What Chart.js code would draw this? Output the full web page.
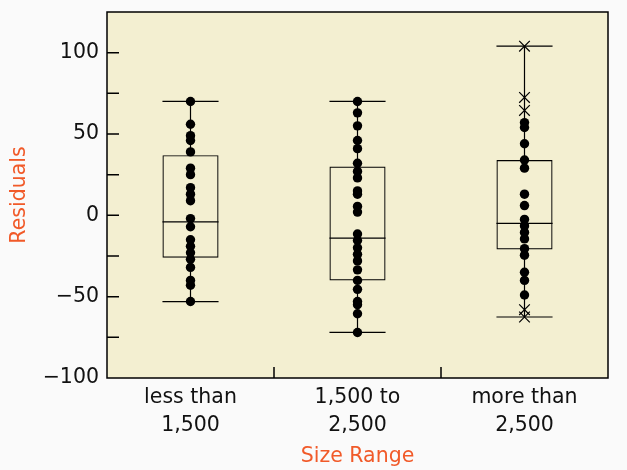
<!DOCTYPE html>
<html>
<head>
<meta charset="utf-8">
<script src="https://cdn.jsdelivr.net/npm/chart.js@4.4.1/dist/chart.umd.min.js"></script>
<style>
html,body{margin:0;padding:0;background:#fafafa;}
canvas{display:block;}
</style>
</head>
<body>
<canvas id="c" width="627" height="470"></canvas>
<script>
// ---- data ----
const categories = [["less than", "1,500"], ["1,500 to", "2,500"], ["more than", "2,500"]];
const boxQ1 = [-26, -40, -21];
const boxMedian = [-4, -14, -5];
const boxQ3 = [37, 30, 34];
const whiskerMin = [-53, -72, -62.5];
const whiskerMax = [70, 70, 104];
const residualsSmall = [70, 56, 49, 46, 39, 29, 25, 17, 13, 9, -2, -7, -15, -19, -23, -27, -32, -40, -43, -53];
const residualsMid = [70, 63, 55, 46, 41, 32, 27, 23, 15, 13, 5.5, 2, -11.5, -15.5, -20, -24, -28, -33.5, -40, -45.5, -53, -55, -60.5, -72];
const residualsLarge = [57, 54, 44, 34, 29, 13, 6, -2.5, -6.5, -10.5, -14.5, -20.5, -24.5, -35, -40, -49];
const outliersLarge = [104, 72.5, 64.5, -58, -62.5];
const yLabelTicks = [-100, -50, 0, 50, 100];
const yTickMarks = [-75, -50, -25, 0, 25, 50, 75, 100];

// ---- styling ----
const ORANGE = '#F15A29';
const PLOT_BG = '#F3EFD1';
const BOX_FRAC = 0.336;
const FONT = "'DejaVu Sans', sans-serif";
Chart.defaults.font.family = FONT;

const toPts = (arr, idx) => arr.map(v => ({x: idx, y: v}));
const fmt = v => (v < 0 ? '\u2212' + Math.abs(v) : String(v));

const boxPlugin = {
  id: 'boxplot',
  beforeDraw(chart) {
    const {ctx, chartArea: a} = chart;
    ctx.save();
    ctx.fillStyle = PLOT_BG;
    ctx.fillRect(a.left, a.top, a.right - a.left, a.bottom - a.top);
    ctx.restore();
  },
  beforeDatasetsDraw(chart) {
    const {ctx, scales: {x, y}} = chart;
    const half = (x.getPixelForValue(1) - x.getPixelForValue(0)) * BOX_FRAC / 2;
    ctx.save();
    ctx.strokeStyle = '#000';
    ctx.lineWidth = 1.2;
    for (let i = 0; i < categories.length; i++) {
      const cx = x.getPixelForValue(i);
      const yMax = y.getPixelForValue(whiskerMax[i]);
      const yMin = y.getPixelForValue(whiskerMin[i]);
      const yQ3 = y.getPixelForValue(boxQ3[i]);
      const yQ1 = y.getPixelForValue(boxQ1[i]);
      const yMed = y.getPixelForValue(boxMedian[i]);
      ctx.beginPath();
      ctx.moveTo(cx, yQ3); ctx.lineTo(cx, yMax);
      ctx.moveTo(cx, yQ1); ctx.lineTo(cx, yMin);
      ctx.moveTo(cx - half, yMax); ctx.lineTo(cx + half, yMax);
      ctx.moveTo(cx - half, yMin); ctx.lineTo(cx + half, yMin);
      ctx.moveTo(cx - half, yMed); ctx.lineTo(cx + half, yMed);
      ctx.stroke();
    }
    ctx.restore();
  },
  afterDatasetsDraw(chart) {
    const {ctx, chartArea: a, scales: {x, y}} = chart;
    ctx.save();
    ctx.strokeStyle = '#000';
    ctx.lineWidth = 1.5;
    ctx.strokeRect(a.left, a.top, a.right - a.left, a.bottom - a.top);
    ctx.beginPath();
    yTickMarks.forEach(v => {
      const py = y.getPixelForValue(v);
      ctx.moveTo(a.left, py); ctx.lineTo(a.left + 12, py);
    });
    for (let i = 0; i < categories.length - 1; i++) {
      const px = x.getPixelForValue(i + 0.5);
      ctx.moveTo(px, a.bottom); ctx.lineTo(px, a.bottom - 11);
    }
    ctx.stroke();
    ctx.restore();
  }
};

new Chart(document.getElementById('c'), {
  type: 'scatter',
  data: {
    datasets: [
      {data: toPts(residualsSmall, 0), pointRadius: 4.7, pointBackgroundColor: '#000', pointBorderWidth: 0, order: 0},
      {data: toPts(residualsMid, 1), pointRadius: 4.7, pointBackgroundColor: '#000', pointBorderWidth: 0, order: 0},
      {data: toPts(residualsLarge, 2), pointRadius: 4.7, pointBackgroundColor: '#000', pointBorderWidth: 0, order: 0},
      {data: toPts(outliersLarge, 2), pointStyle: 'crossRot', pointRadius: 7.5, pointBorderColor: '#000', pointBorderWidth: 1.2, order: 0},
      {type: 'bar', data: boxQ1.map((q, i) => ({x: i, y: [q, boxQ3[i]]})),
       backgroundColor: 'rgba(0,0,0,0)', borderColor: '#000', borderWidth: 1.2, borderSkipped: false,
       barPercentage: BOX_FRAC, categoryPercentage: 1, order: 5}
    ]
  },
  options: {
    responsive: false,
    animation: false,
    devicePixelRatio: 1,
    events: [],
    layout: {padding: {top: 12, right: 19, left: 0, bottom: 0}},
    plugins: {legend: {display: false}, tooltip: {enabled: false}},
    scales: {
      x: {
        type: 'linear', min: -0.5, max: 2.5, offset: false,
        afterBuildTicks: s => { s.ticks = categories.map((c, i) => ({value: i})); },
        afterFit: s => { s.height = 92; s.paddingLeft = 0; s.paddingRight = 0; },
        grid: {display: false, drawTicks: false, offset: false},
        border: {display: false},
        ticks: {callback: v => categories[v], color: '#111', font: {size: 20.5, lineHeight: 1.34},
                padding: 6, maxRotation: 0, autoSkip: false},
        title: {display: true, text: 'Size Range', color: ORANGE, font: {size: 20.5, lineHeight: 1.2},
                padding: {top: 0, bottom: 1}}
      },
      y: {
        type: 'linear', min: -100, max: 125,
        afterBuildTicks: s => { s.ticks = yLabelTicks.map(v => ({value: v})); },
        afterFit: s => { s.width = 107; s.paddingTop = 0; s.paddingBottom = 0; },
        grid: {display: false, drawTicks: false},
        border: {display: false},
        ticks: {callback: v => fmt(v), color: '#111', font: {size: 20.5}, padding: 8},
        title: {display: true, text: 'Residuals', color: ORANGE, font: {size: 20.5, lineHeight: 1.2},
                padding: {top: 7, bottom: 0}}
      }
    }
  },
  plugins: [boxPlugin]
});
</script>
</body>
</html>
